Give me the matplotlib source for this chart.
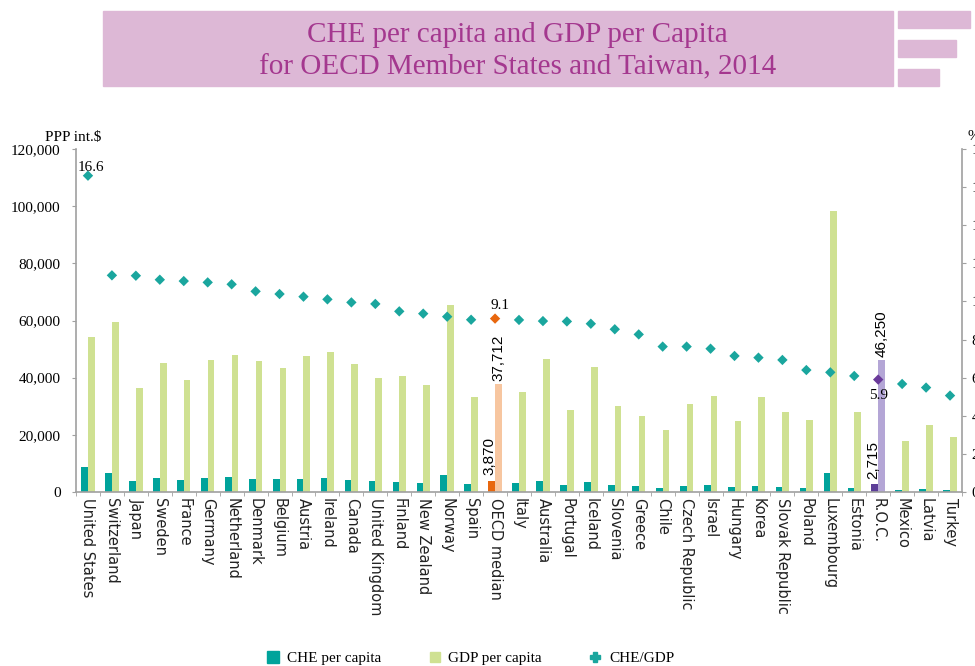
import matplotlib
matplotlib.use("Agg")
import matplotlib.pyplot as plt
from matplotlib.lines import Line2D
from matplotlib.patches import Rectangle
import numpy as np

# Data
countries = ["United States", "Switzerland", "Japan", "Sweden", "France", "Germany",
             "Netherland", "Denmark", "Belgium", "Austria", "Ireland", "Canada",
             "United Kingdom", "Finland", "New Zealand", "Norway", "Spain", "OECD median",
             "Italy", "Australia", "Portugal", "Iceland", "Slovenia", "Greece", "Chile",
             "Czech Republic", "Israel", "Hungary", "Korea", "Slovak Republic", "Poland",
             "Luxembourg", "Estonia", "R.O.C.", "Mexico", "Latvia", "Turkey"]
che_per_capita = [8860, 6650, 3960, 4900, 4200, 5010, 5250, 4660, 4430, 4660, 4900, 4200,
                  3730, 3610, 3270, 5830, 2800, 3870, 3030, 3960, 2330, 3610, 2330, 1980,
                  1400, 2100, 2330, 1630, 2100, 1750, 1400, 6530, 1500, 2715, 810, 1050, 810]
gdp_per_capita = [54200, 59400, 36400, 45100, 39200, 46200, 48000, 45800, 43400, 47500,
                  49100, 44800, 40000, 40500, 37400, 65400, 33400, 37712, 35100, 46500,
                  28600, 43700, 30200, 26600, 21800, 30900, 33500, 24800, 33200, 28000,
                  25100, 98300, 28000, 46250, 17800, 23300, 19200]
che_gdp = [16.6, 11.37, 11.35, 11.14, 11.07, 11.0, 10.9, 10.53, 10.39, 10.25, 10.11, 9.95,
           9.87, 9.48, 9.36, 9.2, 9.04, 9.1, 9.03, 8.97, 8.95, 8.83, 8.54, 8.27, 7.63,
           7.63, 7.52, 7.14, 7.05, 6.93, 6.4, 6.28, 6.09, 5.9, 5.67, 5.48, 5.06]

left_ticks = [0, 20000, 40000, 60000, 80000, 100000, 120000]
right_ticks = [0, 2, 4, 6, 8, 10, 12, 14, 16, 18]

teal = "#00A39B"
light_green = "#CFE192"
marker_teal = "#1AA69E"
title_pink = "#DDB8D6"

serif = ["Liberation Serif", "DejaVu Serif"]

fig = plt.figure(figsize=(9.75, 6.66), dpi=100)

# title banner and decorative blocks
fig.patches.append(Rectangle((103 / 975, 1 - 86 / 666), 790 / 975, 75 / 666,
                             transform=fig.transFigure, color=title_pink, zorder=0))
for x0, x1, y0, y1 in [(898, 970, 11, 28), (898, 956, 40, 57), (898, 939, 69, 86)]:
    fig.patches.append(Rectangle((x0 / 975, 1 - y1 / 666), (x1 - x0) / 975, (y1 - y0) / 666,
                                 transform=fig.transFigure, color=title_pink, zorder=0))
fig.text(0.531, 1 - 51 / 666, "CHE per capita and GDP per Capita\nfor OECD Member States and Taiwan, 2014",
         ha="center", va="center", fontsize=21, color="#A4388F", family=serif, linespacing=1.32)

ax = fig.add_axes([76 / 975, 1 - 492 / 666, 886 / 975, 343 / 666])
x = np.arange(len(countries))
w = 0.28
oecd = countries.index("OECD median")
roc = countries.index("R.O.C.")

che_colors = [teal] * len(countries)
gdp_colors = [light_green] * len(countries)
mk_colors = [marker_teal] * len(countries)
che_colors[oecd], gdp_colors[oecd], mk_colors[oecd] = "#E8670E", "#F7C6A0", "#E8670E"
che_colors[roc], gdp_colors[roc], mk_colors[roc] = "#5C3D98", "#B4A6D6", "#6A3A9A"

ax.bar(x - w / 2, che_per_capita, width=w, color=che_colors, zorder=2)
ax.bar(x + w / 2, gdp_per_capita, width=w, color=gdp_colors, zorder=2)
ax.set_xlim(-0.5, len(countries) - 0.5)
ax.set_ylim(0, 120000)
ax.set_yticks(left_ticks)
ax.set_yticklabels([f"{v:,}" for v in left_ticks], family=serif, fontsize=11)

ax.set_xticks(x)
ax.set_xticklabels(countries, rotation=270, fontsize=10.5, family="DejaVu Sans", color="#222222")
ax.set_xticks(np.arange(-0.5, len(countries), 1), minor=True)
ax.tick_params(axis="x", which="major", length=0, pad=4)
ax.tick_params(axis="x", which="minor", length=3, color="#A0A0A0")
ax.tick_params(axis="y", length=3, color="#A0A0A0", pad=8)
for s in ["top", "right"]:
    ax.spines[s].set_visible(False)
for s in ["left", "bottom"]:
    ax.spines[s].set_color("#A0A0A0")
    ax.spines[s].set_linewidth(1.2)

ax2 = ax.twinx()
ax2.set_ylim(0, 18)
ax2.set_yticks(right_ticks)
ax2.set_yticklabels([str(v) for v in right_ticks], family=serif, fontsize=11)
ax2.tick_params(axis="y", length=3, color="#A0A0A0", pad=4)
for s in ["top", "left", "bottom"]:
    ax2.spines[s].set_visible(False)
ax2.spines["right"].set_color("#A0A0A0")
ax2.spines["right"].set_linewidth(1.2)
ax2.scatter(x, che_gdp, marker="D", s=28, color=mk_colors, zorder=3, linewidths=0)

# value labels
ax2.annotate("16.6", (x[0], che_gdp[0]), xytext=(2, 6), textcoords="offset points",
             ha="center", va="center", fontsize=11, family=serif)
ax2.annotate("9.1", (x[oecd], che_gdp[oecd]), xytext=(3.5, 9.5), textcoords="offset points",
             ha="center", va="center", fontsize=11, family=serif)
ax2.annotate("5.9", (x[roc], che_gdp[roc]), xytext=(0, -11.5), textcoords="offset points",
             ha="center", va="center", fontsize=11, family=serif)
for i in [oecd, roc]:
    ax.annotate(f"{che_per_capita[i]:,}", (x[i] - w / 2, che_per_capita[i]), xytext=(-1.5, 4),
                textcoords="offset points", rotation=90, ha="center", va="bottom",
                fontsize=11, family="Liberation Sans")
    ax.annotate(f"{gdp_per_capita[i]:,}", (x[i] + w / 2, gdp_per_capita[i]), xytext=(0, 2),
                textcoords="offset points", rotation=90, ha="center", va="bottom",
                fontsize=11, family="Liberation Sans")

fig.text(45 / 975, 1 - 137 / 666, "PPP int.$", fontsize=11, family=serif, va="center")
fig.text(967 / 975, 1 - 137 / 666, "%", fontsize=11, family=serif, va="center")

handles = [
    Line2D([], [], linestyle="", marker="s", markersize=8, color=teal),
    Line2D([], [], linestyle="", marker="s", markersize=6.5, color=light_green),
    Line2D([], [], linestyle="", marker="P", markersize=7, color=marker_teal),
]
fig.legend(handles, ["CHE per capita", "GDP per capita", "CHE/GDP"], loc="center",
           bbox_to_anchor=(0.482, 1 - 658 / 666), ncol=3, frameon=False,
           prop={"family": serif, "size": 11}, handlelength=1.0, handletextpad=0.4,
           columnspacing=3.0)

plt.savefig("out.png", dpi=100)
